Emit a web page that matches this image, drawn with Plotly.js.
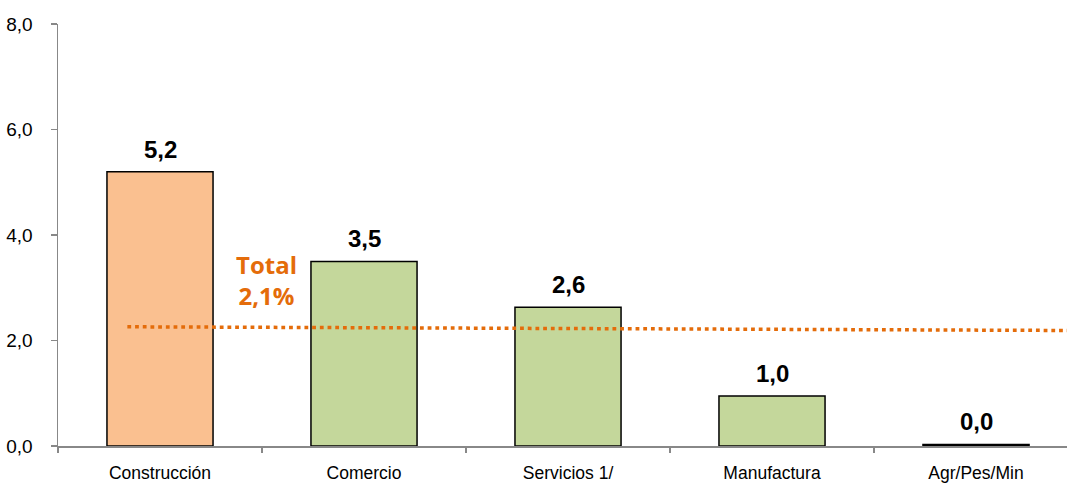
<!DOCTYPE html>
<html>
<head>
<meta charset="utf-8">
<script src="https://cdn.plot.ly/plotly-3.0.1.min.js"></script>
<style>html,body{margin:0;padding:0;background:#fff;}#chart{width:1067px;height:483px;}</style>
</head>
<body>
<div id="chart"></div>
<script>
const categories = ["Construcción", "Comercio", "Servicios 1/", "Manufactura", "Agr/Pes/Min"];
const values = [5.2, 3.5, 2.63, 0.95, 0.03];
const valueLabels = ["5,2", "3,5", "2,6", "1,0", "0,0"];
const barColors = ["#FAC090", "#C4D79B", "#C4D79B", "#C4D79B", "#C4D79B"];
const totalLineX = [-0.16, 4.45];
const totalLineY = [2.26, 2.19];
const totalLabel = "Total<br>2,1%";
const yTickVals = [0, 2, 4, 6, 8];

const sans = "Liberation Sans, Arial, sans-serif";

const bars = {
  type: "bar",
  x: categories,
  y: values,
  width: 0.52,
  marker: {color: barColors, line: {color: "#000", width: 1.5}},
  hoverinfo: "skip",
  showlegend: false
};
const totalLine = {
  type: "scatter",
  mode: "lines",
  x: totalLineX,
  y: totalLineY,
  xaxis: "x2",
  yaxis: "y",
  line: {color: "#E46C0A", width: 3.5, dash: "3.8px,3.9px"},
  hoverinfo: "skip",
  showlegend: false
};

const annotations = categories.map((c, i) => ({
  x: c, y: values[i], xref: "x", yref: "y",
  text: valueLabels[i], showarrow: false,
  yanchor: "bottom", yshift: 7,
  font: {family: sans, size: 24, color: "#000", weight: "bold"}
}));
annotations.push({
  x: 0.52, y: 3.15, xref: "x2", yref: "y",
  text: totalLabel, showarrow: false,
  xanchor: "center", yanchor: "middle",
  font: {family: "Open Sans, sans-serif", size: 24, color: "#E46C0A", weight: "bold"}
});

const layout = {
  width: 1067, height: 483,
  margin: {l: 58, r: 0, t: 24, b: 37, pad: 0},
  paper_bgcolor: "#fff", plot_bgcolor: "#fff",
  separators: ",.",
  font: {family: sans, color: "#000"},
  xaxis: {
    type: "category",
    range: [-0.5, 4.446],
    showline: true, linecolor: "#888", linewidth: 1.5,
    ticks: "outside", tickson: "boundaries", ticklen: 5, tickcolor: "#888", tickwidth: 1.5,
    showgrid: false, zeroline: false,
    tickfont: {family: sans, size: 17.5, color: "#000"},
    ticklabelstandoff: 10
  },
  xaxis2: {overlaying: "x", range: [-0.5, 4.446], visible: false},
  yaxis: {
    range: [0, 8],
    tickvals: yTickVals, tickformat: ".1f",
    showline: true, linecolor: "#888", linewidth: 1.5,
    ticks: "outside", ticklen: 6, tickcolor: "#888", tickwidth: 1.5,
    showgrid: false, zeroline: false,
    tickfont: {family: sans, size: 19, color: "#000"},
    ticklabelstandoff: 14
  },
  annotations: annotations
};

Plotly.newPlot("chart", [bars, totalLine], layout, {staticPlot: true, displayModeBar: false});
</script>
</body>
</html>
